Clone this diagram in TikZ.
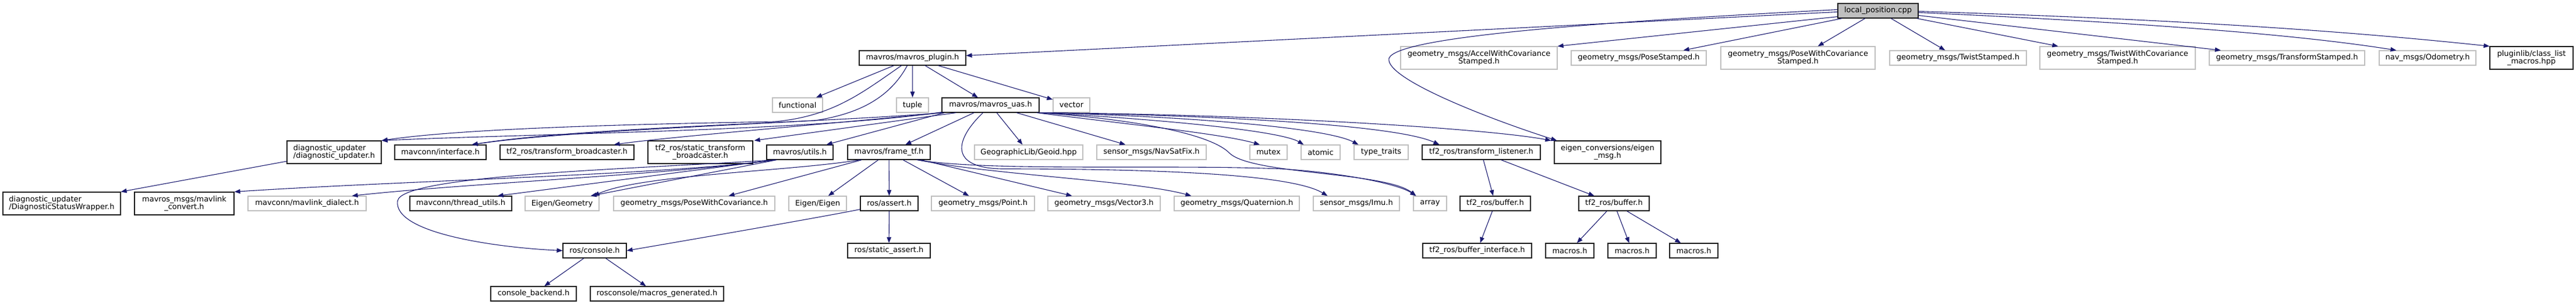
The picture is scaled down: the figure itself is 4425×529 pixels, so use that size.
\documentclass[tikz,border=0pt]{standalone}
\usepackage{fontspec}
\setmainfont{DejaVu Sans}
\usetikzlibrary{arrows.meta,calc}
\definecolor{edgecol}{HTML}{191970}
\definecolor{extcol}{HTML}{BFBFBF}
\definecolor{rootfill}{HTML}{BFBFBF}
\definecolor{docline}{HTML}{1A1A1A}
\begin{document}
\begin{tikzpicture}[x=1pt,y=-1pt,
  box/.style={rectangle,inner sep=0pt,line width=1.2pt,font=\fontsize{13}{13.4}\selectfont,align=center,text=black},
  doc/.style={box,draw=docline},
  ext/.style={box,draw=extcol},
  root/.style={box,draw=docline,fill=rootfill},
  one/.style={minimum height=25pt},
  two/.style={minimum height=39pt},
  dep/.style={draw=edgecol,line width=1.1pt,-{Triangle[length=10pt,width=7.5pt,fill=edgecol]}}]
\useasboundingbox (0,0) rectangle (4425,529);
\fill[white] (0,0) rectangle (4425,529);
% row 0
\node[root,one,minimum width=138pt] (lp) at (3226,18.5) {local\_position.cpp};
% row 1
\node[doc,one,minimum width=183pt] (plugin) at (1567.5,99.5) {mavros/mavros\_plugin.h};
\node[ext,two,minimum width=269pt] (accel) at (2540.5,99.5) {geometry\_msgs/AccelWithCovariance\\Stamped.h};
\node[ext,one,minimum width=232pt] (posest) at (2815,99.5) {geometry\_msgs/PoseStamped.h};
\node[ext,two,minimum width=265pt] (posecovst) at (3088.5,99.5) {geometry\_msgs/PoseWithCovariance\\Stamped.h};
\node[ext,one,minimum width=235pt] (twistst) at (3363.5,99.5) {geometry\_msgs/TwistStamped.h};
\node[ext,two,minimum width=267pt] (twistcovst) at (3637.5,99.5) {geometry\_msgs/TwistWithCovariance\\Stamped.h};
\node[ext,one,minimum width=267pt] (tfst) at (3928.5,99.5) {geometry\_msgs/TransformStamped.h};
\node[ext,one,minimum width=166pt] (odom) at (4170,99.5) {nav\_msgs/Odometry.h};
\node[doc,two,minimum width=143pt] (pluginlib) at (4348.5,99.5) {pluginlib/class\_list\\\_macros.hpp};
% row 2
\node[ext,one,minimum width=86pt] (functional) at (1370,180.5) {functional};
\node[ext,one,minimum width=55pt] (tuple) at (1567.5,180.5) {tuple};
\node[doc,one,minimum width=167pt] (uas) at (1701.5,180.5) {mavros/mavros\_uas.h};
\node[ext,one,minimum width=63pt] (vector) at (1840.5,180.5) {vector};
% row 3
\node[doc,two,minimum width=162pt,align=left] (diagupd) at (574,261.5) {diagnostic\_updater\\/diagnostic\_updater.h};
\node[doc,one,minimum width=157pt] (iface) at (756.5,261.5) {mavconn/interface.h};
\node[doc,one,minimum width=230pt] (tfbr) at (974,261.5) {tf2\_ros/transform\_broadcaster.h};
\node[doc,two,minimum width=180pt] (stbr) at (1203,261.5) {tf2\_ros/static\_transform\\\_broadcaster.h};
\node[doc,one,minimum width=114pt] (utils) at (1374,261.5) {mavros/utils.h};
\node[doc,one,minimum width=142pt] (frametf) at (1527,261.5) {mavros/frame\_tf.h};
\node[ext,one,minimum width=186pt] (geoid) at (1767,261.5) {GeographicLib/Geoid.hpp};
\node[ext,one,minimum width=188pt] (navsat) at (1978,261.5) {sensor\_msgs/NavSatFix.h};
\node[ext,one,minimum width=64pt] (mutex) at (2179,261.5) {mutex};
\node[ext,one,minimum width=67pt] (atomic) at (2268.5,261.5) {atomic};
\node[ext,one,minimum width=93pt] (typetr) at (2372.5,261.5) {type\_traits};
\node[doc,one,minimum width=203pt] (tflist) at (2544.5,261.5) {tf2\_ros/transform\_listener.h};
\node[doc,two,minimum width=183pt] (eigconv) at (2761.5,261.5) {eigen\_conversions/eigen\\\_msg.h};
% row 4
\node[doc,two,minimum width=202pt,align=left] (dsw) at (106,349.5) {diagnostic\_updater\\/DiagnosticStatusWrapper.h};
\node[doc,two,minimum width=171pt] (mlconv) at (316.5,349.5) {mavros\_msgs/mavlink\\\_convert.h};
\node[ext,one,minimum width=203pt] (mldial) at (527.5,349.5) {mavconn/mavlink\_dialect.h};
\node[doc,one,minimum width=175pt] (thrutil) at (791.5,349.5) {mavconn/thread\_utils.h};
\node[ext,one,minimum width=127pt] (eigengeo) at (965.5,349.5) {Eigen/Geometry};
\node[ext,one,minimum width=277pt] (posecov) at (1192.5,349.5) {geometry\_msgs/PoseWithCovariance.h};
\node[ext,one,minimum width=99pt] (eigeneig) at (1404.5,349.5) {Eigen/Eigen};
\node[doc,one,minimum width=99pt] (rosassert) at (1527.5,349.5) {ros/assert.h};
\node[ext,one,minimum width=177pt] (point) at (1688.5,349.5) {geometry\_msgs/Point.h};
\node[ext,one,minimum width=193pt] (vec3) at (1896.5,349.5) {geometry\_msgs/Vector3.h};
\node[ext,one,minimum width=215pt] (quat) at (2124.5,349.5) {geometry\_msgs/Quaternion.h};
\node[ext,one,minimum width=148pt] (imu) at (2330,349.5) {sensor\_msgs/Imu.h};
\node[ext,one,minimum width=57pt] (array) at (2456.5,349.5) {array};
\node[doc,one,minimum width=121pt] (bufL) at (2568.5,349.5) {tf2\_ros/buffer.h};
\node[doc,one,minimum width=121pt] (bufR) at (2772.5,349.5) {tf2\_ros/buffer.h};
% row 5
\node[doc,one,minimum width=109pt] (console) at (1021.5,430.5) {ros/console.h};
\node[doc,one,minimum width=142pt] (staticassert) at (1527,430.5) {ros/static\_assert.h};
\node[doc,one,minimum width=187pt] (bufif) at (2537.5,430.5) {tf2\_ros/buffer\_interface.h};
\node[doc,one,minimum width=83pt] (mac1) at (2696.5,430.5) {macros.h};
\node[doc,one,minimum width=83pt] (mac2) at (2803.5,430.5) {macros.h};
\node[doc,one,minimum width=83pt] (mac3) at (2909.5,430.5) {macros.h};
% row 6
\node[doc,one,minimum width=147pt] (cbackend) at (916.5,504.5) {console\_backend.h};
\node[doc,one,minimum width=229pt] (macgen) at (1128.5,504.5) {rosconsole/macros\_generated.h};

% ---- edges from local_position.cpp
\draw[dep] ($(lp.west)+(0,2)$) -- ($(plugin.east)+(0,-4)$);
\draw[dep] ($(lp.west)+(0,-2)$) .. controls (2700,40) and (2400,65) .. (2386,100) .. controls (2378,135) and (2560,205) .. ($(eigconv.north west)+(5,0)$);
\draw[dep] ($(lp.south west)+(0,-3)$) -- (accel.north east);
\draw[dep] ($(lp.south west)+(8,0)$) -- ($(posest.north east)+(-40,0)$);
\draw[dep] (lp) -- (posecovst);
\draw[dep] (lp) -- (twistst);
\draw[dep] (lp) -- (twistcovst);
\draw[dep] (lp) -- (tfst);
\draw[dep] ($(lp.east)+(0,3)$) .. controls (3700,40) and (3950,60) .. ($(odom.north west)+(30,0)$);
\draw[dep] ($(lp.east)+(0,1)$) .. controls (3700,32) and (4000,50) .. (pluginlib.north west);
% ---- from mavros_plugin.h
\draw[dep] (plugin) -- (functional);
\draw[dep] (plugin) -- (tuple);
\draw[dep] (plugin) -- (uas);
\draw[dep] (plugin) -- (vector);
\draw[dep] ($(plugin.south)+(-19,0)$) .. controls (1480,160) and (1430,200) .. (1330,209) .. controls (1100,213) and (800,220) .. (diagupd.north east);
\draw[dep] ($(plugin.south)+(-9,0)$) .. controls (1530,165) and (1480,195) .. (1400,207) .. controls (1200,218) and (950,228) .. ($(iface.north east)+(-25,0)$);
% ---- from mavros_uas.h
\draw[dep] ($(uas.south west)+(0,-1)$) .. controls (1400,225) and (900,230) .. (diagupd.north east);
\draw[dep] (uas.south west) .. controls (1400,212) and (1000,218) .. ($(iface.north east)+(-25,0)$);
\draw[dep] ($(uas.south west)+(2,0)$) .. controls (1400,215) and (1150,235) .. ($(tfbr.north east)+(-35,0)$);
\draw[dep] ($(uas.south west)+(25,0)$) -- ($(stbr.north east)+(2,0)$);
\draw[dep] ($(uas.south west)+(5,0)$) -- ($(utils.north east)+(-12,0)$);
\draw[dep] (uas) -- (frametf);
\draw[dep] (uas) -- (geoid);
\draw[dep] (uas) -- (navsat);
\draw[dep] ($(uas.south east)+(-5,0)$) .. controls (1950,215) and (2100,230) .. ($(mutex.north)+(-15,0)$);
\draw[dep] (uas.south east) .. controls (2000,205) and (2200,225) .. ($(atomic.north west)+(5,0)$);
\draw[dep] (uas.south east) .. controls (2050,200) and (2280,220) .. ($(typetr.north west)+(8,0)$);
\draw[dep] (uas.south east) .. controls (2100,198) and (2400,215) .. ($(tflist.north west)+(30,0)$);
\draw[dep] (uas.south east) .. controls (2150,196) and (2550,220) .. ($(eigconv.north west)+(-5,0)$);
\draw[dep] (uas.south east) .. controls (1950,205) and (2080,230) .. (2112,263) .. controls (2150,300) and (2380,295) .. ($(array.north west)+(5,0)$);
\draw[dep] ($(uas.south)+(-13,0)$) .. controls (1640,240) and (1630,288) .. (1720,290) .. controls (2000,290) and (2220,300) .. ($(imu.north west)+(25,0)$);
% ---- from mavros/frame_tf.h
\draw[dep] (frametf) -- (eigeneig);
\draw[dep] (frametf) -- (rosassert);
\draw[dep] (frametf) -- (point);
\draw[dep] (frametf) -- (vec3);
\draw[dep] ($(frametf.south east)+(-22,0)$) .. controls (1700,300) and (1950,310) .. ($(quat.north west)+(30,0)$);
\draw[dep] ($(frametf.south east)+(-24,0)$) .. controls (1700,295) and (2000,282) .. (2200,290) .. controls (2300,296) and (2400,315) .. ($(array.north west)+(5,0)$);
\draw[dep] ($(frametf.south west)+(25,0)$) -- ($(posecov.north east)+(-80,0)$);
\draw[dep] ($(frametf.south west)+(22,0)$) .. controls (1350,295) and (1100,300) .. ($(eigengeo.north east)+(-10,0)$);
% ---- from mavros/utils.h
\draw[dep] ($(utils.south west)+(15,0)$) .. controls (1150,300) and (700,310) .. (mlconv.north east);
\draw[dep] ($(utils.south west)+(15,0)$) .. controls (1150,300) and (800,315) .. ($(mldial.north east)+(-25,0)$);
\draw[dep] ($(utils.south west)+(15,0)$) -- ($(thrutil.north east)+(-25,0)$);
\draw[dep] ($(utils.south west)+(18,0)$) -- ($(eigengeo.north east)+(-15,0)$);
\draw[dep] ($(utils.south west)+(15,0)$) .. controls (1100,290) and (690,300) .. (683,345) .. controls (675,400) and (850,425) .. (console.west);
% ---- others
\draw[dep] ($(rosassert.south west)+(0,-3)$) .. controls (1400,375) and (1150,418) .. (console.east);
\draw[dep] (rosassert) -- (staticassert);
\draw[dep] (console) -- (cbackend);
\draw[dep] (console) -- (macgen);
\draw[dep] ($(diagupd.west)+(0,15.5)$) -- (dsw.north east);
\draw[dep] (tflist) -- (bufL);
\draw[dep] (tflist) -- (bufR);
\draw[dep] (bufL) -- (bufif);
\draw[dep] (bufR) -- (mac1);
\draw[dep] (bufR) -- (mac2);
\draw[dep] (bufR) -- (mac3);
\end{tikzpicture}
\end{document}
